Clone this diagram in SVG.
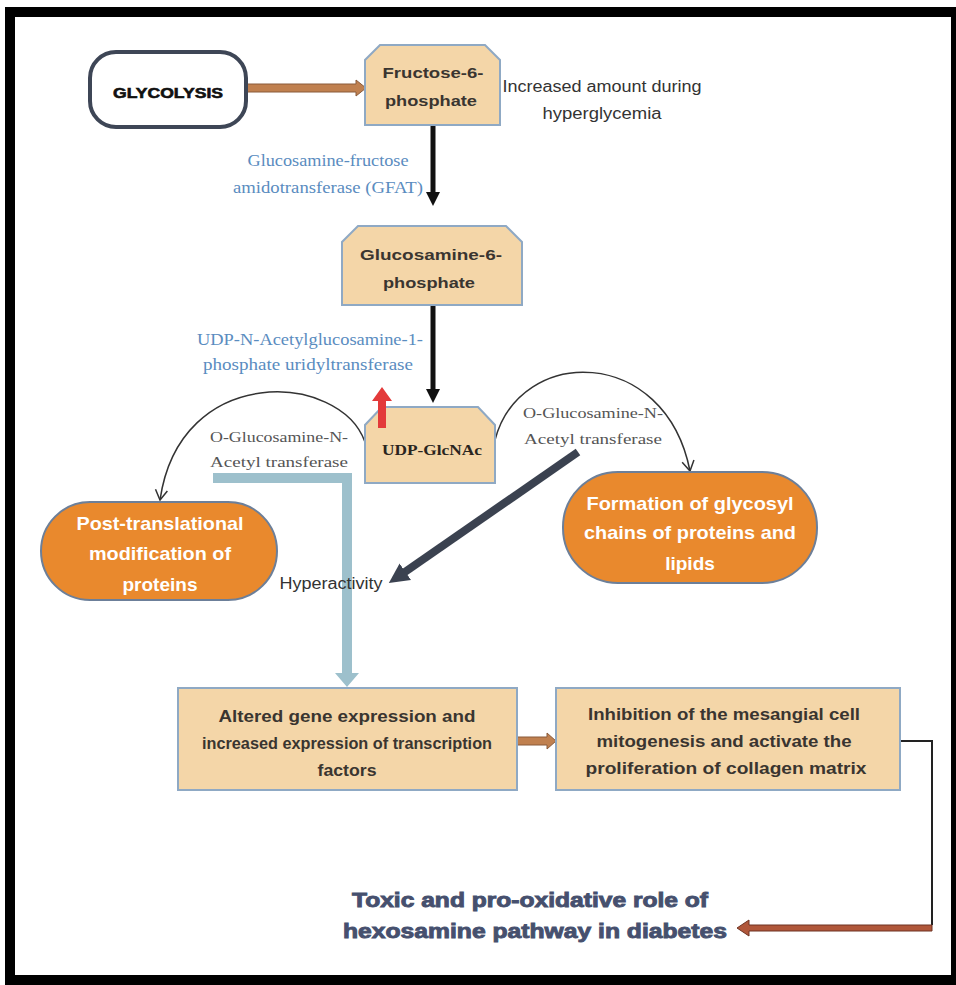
<svg xmlns="http://www.w3.org/2000/svg" width="956" height="985" viewBox="0 0 956 985">
<style>
.tan{fill:#f4d6a8;stroke:#8fa9c4;stroke-width:2}
.orange{fill:#e9892d;stroke:#6c7f99;stroke-width:2}
.bt{font-family:"Liberation Sans",Arial,sans-serif;font-weight:bold;fill:#3a3530;text-anchor:middle}
.wt{font-family:"Liberation Sans",Arial,sans-serif;font-weight:bold;fill:#ffffff;text-anchor:middle;font-size:19px}
.enz{font-family:"Liberation Serif","Times New Roman",serif;fill:#5a8cc0;text-anchor:middle;font-size:16px}
.gr{font-family:"Liberation Serif","Times New Roman",serif;fill:#555;text-anchor:middle;font-size:15px}
.note{font-family:"Liberation Sans",Arial,sans-serif;fill:#333;text-anchor:middle;font-size:16px}
.blk{stroke:#111;stroke-width:5;fill:none}
.curve{stroke:#333;stroke-width:1.5;fill:none}
.brown{fill:#c0804f;stroke:#8a5a3a;stroke-width:1}
.toxic{font-family:"Liberation Sans",Arial,sans-serif;font-weight:bold;fill:#46506e;stroke:#46506e;stroke-width:0.9;text-anchor:middle;font-size:20px}
</style>
<defs>
<marker id="bh" markerUnits="userSpaceOnUse" markerWidth="16" markerHeight="16" refX="2" refY="8" orient="auto">
<path d="M0,1 L14,8 L0,15 Z" fill="#111"/>
</marker>
<marker id="vh" markerUnits="userSpaceOnUse" markerWidth="14" markerHeight="14" refX="11" refY="7" orient="auto">
<path d="M1,1 L11,7 L1,13" fill="none" stroke="#333" stroke-width="1.5"/>
</marker>
<marker id="dh" markerUnits="userSpaceOnUse" markerWidth="22" markerHeight="22" refX="4" refY="11" orient="auto">
<path d="M0,1 L20,11 L0,21 Z" fill="#3b4250"/>
</marker>
<marker id="lh" markerUnits="userSpaceOnUse" markerWidth="24" markerHeight="26" refX="2" refY="13" orient="auto">
<path d="M0,1 L14,13 L0,25 Z" fill="#9dc0cc"/>
</marker>
</defs>
<rect x="0" y="0" width="956" height="985" fill="#ffffff"/>
<g id="frame">
<rect x="5" y="7" width="951" height="10" fill="#000"/>
<rect x="5" y="7" width="10" height="978" fill="#000"/>
<rect x="5" y="975" width="951" height="10" fill="#000"/>
<rect x="951" y="7" width="5" height="978" fill="#000"/>
</g>
<g id="connectors">
<polygon class="brown" points="246,84 356,84 356,80 366,88 356,96 356,92 246,92"/>
<line class="blk" x1="433" y1="125" x2="433" y2="194" marker-end="url(#bh)"/>
<line class="blk" x1="433" y1="305" x2="433" y2="391" marker-end="url(#bh)"/>
<path class="curve" d="M365,442 C340,372 180,362 160,500" marker-end="url(#vh)"/>
<path class="curve" d="M495,440 C520,345 665,345 690,471" marker-end="url(#vh)"/>
<polyline points="213,478 347,478 347,675" fill="none" stroke="#9dc0cc" stroke-width="10" marker-end="url(#lh)"/>
<line x1="578" y1="452" x2="402" y2="574" stroke="#3b4250" stroke-width="8" marker-end="url(#dh)"/>
<polygon class="brown" points="517,737 547,737 547,733 556,741 547,749 547,745 517,745"/>
<polyline points="900,741 932,741 932,925" fill="none" stroke="#222" stroke-width="2"/>
<polygon points="932,925 749,925 749,920 737,928 749,936 749,931 932,931" fill="#b0573a" stroke="#6e3322" stroke-width="1"/>
</g>
<g id="glycolysis">
<rect x="90" y="52" width="156" height="75" rx="26" ry="26" fill="#fff" stroke="#3e4656" stroke-width="4"/>
<text class="bt" x="168" y="98" font-size="15" textLength="110" lengthAdjust="spacingAndGlyphs" style="fill:#111;stroke:#111;stroke-width:0.6">GLYCOLYSIS</text>
</g>
<g id="fructose">
<polygon class="tan" points="380,45 485,45 500,60 500,125 365,125 365,60"/>
<text class="bt" x="433" y="78" font-size="15" textLength="101" lengthAdjust="spacingAndGlyphs">Fructose-6-</text>
<text class="bt" x="431" y="106" font-size="15" textLength="92" lengthAdjust="spacingAndGlyphs">phosphate</text>
</g>
<g id="note-increased">
<text class="note" x="602" y="92" textLength="199" lengthAdjust="spacingAndGlyphs">Increased amount during</text>
<text class="note" x="602" y="119" textLength="119" lengthAdjust="spacingAndGlyphs">hyperglycemia</text>
</g>
<g id="gfat">
<text class="enz" x="328" y="166" textLength="161" lengthAdjust="spacingAndGlyphs">Glucosamine-fructose</text>
<text class="enz" x="328" y="193" textLength="190" lengthAdjust="spacingAndGlyphs">amidotransferase (GFAT)</text>
</g>
<g id="glucosamine">
<polygon class="tan" points="358,226 506,226 522,242 522,305 342,305 342,242"/>
<text class="bt" x="431" y="260" font-size="15" textLength="142" lengthAdjust="spacingAndGlyphs">Glucosamine-6-</text>
<text class="bt" x="429" y="288" font-size="15" textLength="92" lengthAdjust="spacingAndGlyphs">phosphate</text>
</g>
<g id="uridyltransferase">
<text class="enz" x="310" y="345" textLength="226" lengthAdjust="spacingAndGlyphs">UDP-N-Acetylglucosamine-1-</text>
<text class="enz" x="308" y="370" textLength="210" lengthAdjust="spacingAndGlyphs">phosphate uridyltransferase</text>
</g>
<g id="udp-glcnac">
<polygon class="tan" points="382,407 478,407 495,425 495,483 365,483 365,425"/>
<polygon points="378,428 378,401 372,401 382,387 392,401 386,401 386,428" fill="#e33a3a"/>
<text x="432" y="455" font-family="'Liberation Serif','Times New Roman',serif" font-weight="bold" font-size="15" fill="#2a2520" text-anchor="middle" textLength="100" lengthAdjust="spacingAndGlyphs">UDP-GlcNAc</text>
</g>
<g id="ogt-left">
<text class="gr" x="279" y="442" textLength="138" lengthAdjust="spacingAndGlyphs">O-Glucosamine-N-</text>
<text class="gr" x="279" y="467" textLength="138" lengthAdjust="spacingAndGlyphs">Acetyl transferase</text>
</g>
<g id="ogt-right">
<text class="gr" x="593" y="418" textLength="140" lengthAdjust="spacingAndGlyphs">O-Glucosamine-N-</text>
<text class="gr" x="593" y="444" textLength="138" lengthAdjust="spacingAndGlyphs">Acetyl transferase</text>
</g>
<g id="post-translational">
<rect class="orange" x="41" y="502" width="236" height="98" rx="49" ry="49"/>
<text class="wt" x="160" y="530" textLength="167" lengthAdjust="spacingAndGlyphs">Post-translational</text>
<text class="wt" x="160" y="560" textLength="142" lengthAdjust="spacingAndGlyphs">modification of</text>
<text class="wt" x="160" y="591">proteins</text>
</g>
<g id="formation">
<rect class="orange" x="563" y="472" width="254" height="111" rx="55" ry="55"/>
<text class="wt" x="690" y="510" textLength="207" lengthAdjust="spacingAndGlyphs">Formation of glycosyl</text>
<text class="wt" x="690" y="539" textLength="212" lengthAdjust="spacingAndGlyphs">chains of proteins and</text>
<text class="wt" x="690" y="570">lipids</text>
</g>
<g id="hyperactivity">
<text class="note" x="331" y="589" font-size="15" textLength="103" lengthAdjust="spacingAndGlyphs">Hyperactivity</text>
</g>
<g id="altered">
<rect class="tan" x="178" y="688" width="339" height="102"/>
<text class="bt" x="347" y="722" font-size="16" textLength="257" lengthAdjust="spacingAndGlyphs">Altered gene expression and</text>
<text class="bt" x="347" y="749" font-size="16" textLength="290" lengthAdjust="spacingAndGlyphs">increased expression of transcription</text>
<text class="bt" x="347" y="776" font-size="16" textLength="59" lengthAdjust="spacingAndGlyphs">factors</text>
</g>
<g id="inhibition">
<rect class="tan" x="556" y="688" width="344" height="102"/>
<text class="bt" x="724" y="720" font-size="16" textLength="272" lengthAdjust="spacingAndGlyphs">Inhibition of the mesangial cell</text>
<text class="bt" x="724" y="747" font-size="16" textLength="255" lengthAdjust="spacingAndGlyphs">mitogenesis and activate the</text>
<text class="bt" x="726" y="774" font-size="16" textLength="281" lengthAdjust="spacingAndGlyphs">proliferation of collagen matrix</text>
</g>
<g id="toxic">
<text class="toxic" x="530" y="907" textLength="356" lengthAdjust="spacingAndGlyphs">Toxic and pro-oxidative role of</text>
<text class="toxic" x="535" y="938" textLength="384" lengthAdjust="spacingAndGlyphs">hexosamine pathway in diabetes</text>
</g>
</svg>
